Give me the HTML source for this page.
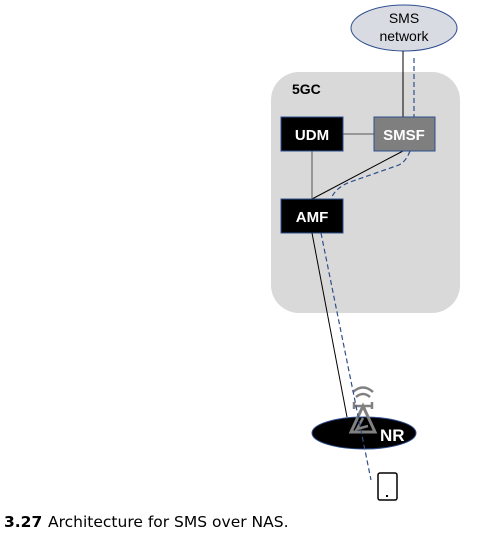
<!DOCTYPE html>
<html><head><style>
body{margin:0;background:#fff;width:491px;height:533px;overflow:hidden;font-family:"Liberation Sans",sans-serif}
</style></head><body>
<svg width="491" height="533" viewBox="0 0 491 533" xmlns="http://www.w3.org/2000/svg">
<rect x="271" y="72" width="189" height="241" rx="28" fill="#d9d9d9"/>
<text x="292" y="94" font-family="Liberation Sans" font-weight="bold" font-size="14" fill="#000">5GC</text>
<ellipse cx="404" cy="28" rx="53" ry="23" fill="#d9dbe3" stroke="#2f4f8f" stroke-width="1"/>
<text x="404" y="23" font-family="Liberation Sans" font-size="14" text-anchor="middle">SMS</text>
<text x="404" y="41" font-family="Liberation Sans" font-size="14" text-anchor="middle">network</text>
<line x1="403" y1="51" x2="403" y2="117" stroke="#000" stroke-width="1"/>
<line x1="414" y1="58" x2="414" y2="117" stroke="#2f4f8f" stroke-width="1.2" stroke-dasharray="5,3"/>
<line x1="343" y1="134" x2="374" y2="134" stroke="#555" stroke-width="1"/>
<line x1="312" y1="151" x2="312" y2="199" stroke="#555" stroke-width="1"/>
<line x1="403" y1="151" x2="312" y2="199" stroke="#000" stroke-width="1"/>
<path d="M410 151 Q405 164 396 166 L350 182 Q335 188 331 199" fill="none" stroke="#2f4f8f" stroke-width="1.2" stroke-dasharray="5,3"/>
<rect x="281" y="117" width="62" height="34" fill="#000" stroke="#2f4f8f"/>
<text x="312" y="140" font-family="Liberation Sans" font-weight="bold" font-size="15" fill="#fff" text-anchor="middle">UDM</text>
<rect x="374" y="117" width="61" height="34" fill="#7f7f7f" stroke="#2f4f8f"/>
<text x="404" y="140" font-family="Liberation Sans" font-weight="bold" font-size="15" fill="#fff" text-anchor="middle">SMSF</text>
<rect x="281" y="199" width="62" height="34" fill="#000" stroke="#2f4f8f"/>
<text x="312" y="222" font-family="Liberation Sans" font-weight="bold" font-size="15" fill="#fff" text-anchor="middle">AMF</text>
<line x1="312" y1="233" x2="347" y2="417" stroke="#000" stroke-width="1"/>
<ellipse cx="364" cy="433" rx="52" ry="16" fill="#000" stroke="#2f4f8f"/>
<g stroke="#808080" fill="none" stroke-width="2.5">
<path d="M356 397 Q363 391 370 397"/><path d="M353 392 Q363 383 373 392"/>
<line x1="354" y1="406" x2="372" y2="406"/><line x1="354" y1="402" x2="354" y2="409"/><line x1="372" y1="402" x2="372" y2="409"/>
<path d="M363 406 L351 432 L375 432 Z" stroke-width="3"/>
<path d="M363 418 L357 429 L368 426"/>
</g>
<text x="380" y="441" font-family="Liberation Sans" font-weight="bold" font-size="17" fill="#fff">NR</text>
<line x1="321" y1="233" x2="371" y2="480" stroke="#2f4f8f" stroke-width="1.2" stroke-dasharray="5,3"/>
<rect x="378" y="473" width="19" height="27" rx="2" fill="#fff" stroke="#000" stroke-width="1.5"/>
<rect x="386" y="495" width="2" height="2" fill="#000"/>
<text x="4" y="527" font-family="DejaVu Sans" font-size="15.5" fill="#000"><tspan font-weight="bold">3.27</tspan><tspan x="48">Architecture for SMS over NAS.</tspan></text>
</svg>
</body></html>
